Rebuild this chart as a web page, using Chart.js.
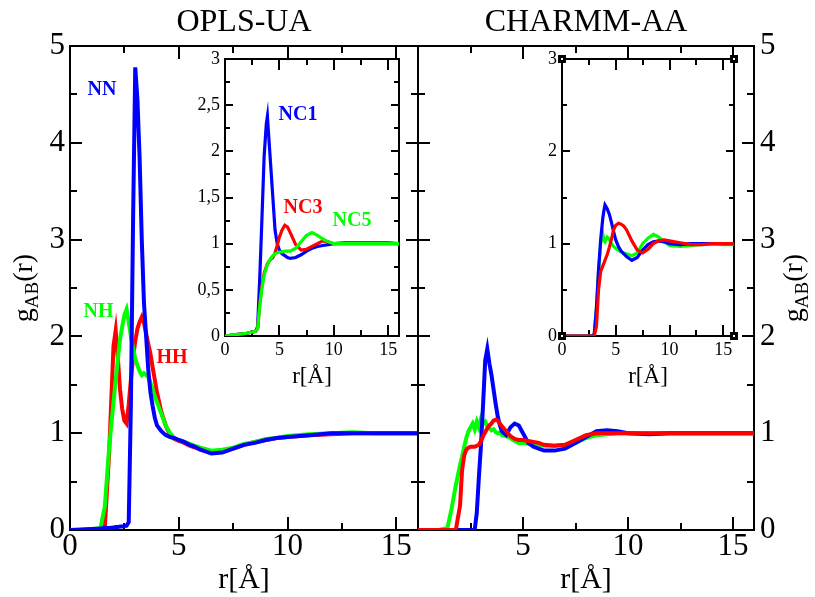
<!DOCTYPE html>
<html><head><meta charset="utf-8">
<script src="https://cdn.jsdelivr.net/npm/chart.js@4"></script>
<style>
html,body{margin:0;padding:0;background:#fff;width:815px;height:597px;overflow:hidden}
canvas{position:absolute;left:0;top:0}
</style></head><body>
<canvas id="mainL" width="815" height="597"></canvas>
<canvas id="mainR" width="815" height="597"></canvas>
<canvas id="insetL" width="815" height="597"></canvas>
<canvas id="insetR" width="815" height="597"></canvas>
<script>
// ---------- DATA ----------
const panelTitles = ['OPLS-UA', 'CHARMM-AA'];
const xTitle = 'r[Å]';
const xTicks = [0, 5, 10, 15];

const rMain = [0, 0.5, 1.0, 1.4, 1.6, 1.8, 2.0, 2.1, 2.2, 2.3, 2.4, 2.5, 2.6, 2.7, 2.8, 2.9, 3.0, 3.1, 3.2, 3.3, 3.4, 3.5, 3.6, 3.7, 3.8, 3.9, 4.0, 4.2, 4.4, 4.6, 4.8, 5.0, 5.25, 5.5, 5.75, 6.0, 6.5, 7.0, 7.5, 8.0, 8.5, 9.0, 9.5, 10, 11, 12, 13, 14, 15, 16];

// OPLS-UA main panel
const oplsNN = [0, 0.005, 0.01, 0.015, 0.02, 0.02, 0.025, 0.03, 0.03, 0.035, 0.035, 0.04, 0.045, 0.08, 1.3, 3.2, 4.78, 4.45, 3.85, 3.0, 2.35, 2.0, 1.65, 1.42, 1.28, 1.16, 1.08, 1.02, 0.98, 0.96, 0.95, 0.93, 0.91, 0.88, 0.86, 0.83, 0.79, 0.8, 0.84, 0.88, 0.9, 0.93, 0.95, 0.96, 0.98, 1.0, 1.0, 1.0, 1.0, 1.0];
const oplsNH = [0, 0, 0.005, 0.02, 0.24, 0.85, 1.32, 1.55, 1.76, 1.97, 2.1, 2.22, 2.28, 2.15, 2.0, 1.88, 1.77, 1.7, 1.64, 1.6, 1.62, 1.6, 1.58, 1.52, 1.45, 1.38, 1.32, 1.2, 1.08, 1.0, 0.95, 0.93, 0.91, 0.89, 0.87, 0.85, 0.82, 0.83, 0.85, 0.89, 0.91, 0.94, 0.95, 0.97, 0.99, 1.0, 1.01, 1.0, 1.0, 1.0];
const oplsHH = [0, 0, 0.005, 0.01, 0.02, 0.8, 1.9, 2.06, 1.78, 1.45, 1.25, 1.13, 1.1, 1.3, 1.55, 1.78, 1.95, 2.08, 2.15, 2.2, 2.14, 2.03, 1.92, 1.82, 1.68, 1.55, 1.42, 1.22, 1.08, 0.98, 0.94, 0.92, 0.9, 0.87, 0.85, 0.83, 0.8, 0.81, 0.84, 0.88, 0.91, 0.93, 0.95, 0.96, 0.98, 0.99, 1.0, 1.0, 1.0, 1.0];

// CHARMM-AA main panel
const charmmNN = [0, 0, 0, 0, 0, 0, 0, 0, 0, 0, 0, 0, 0, 0, 0.18, 0.55, 0.88, 1.3, 1.75, 1.87, 1.72, 1.6, 1.45, 1.3, 1.17, 1.08, 1.02, 0.98, 1.06, 1.1, 1.08, 1.0, 0.9, 0.86, 0.84, 0.82, 0.82, 0.84, 0.9, 0.96, 1.02, 1.03, 1.02, 1.0, 0.99, 1.0, 1.0, 1.0, 1.0, 1.0];
const charmmNH = [0, 0, 0, 0.02, 0.22, 0.46, 0.67, 0.76, 0.86, 0.95, 1.02, 1.06, 1.1, 1.04, 1.12, 1.06, 1.15, 1.1, 1.12, 1.07, 1.05, 1.03, 1.04, 1.01, 1.0, 1.01, 0.98, 0.97, 0.95, 0.92, 0.9, 0.9, 0.89, 0.88, 0.88, 0.87, 0.87, 0.88, 0.9, 0.95, 0.98, 0.99, 1.0, 1.0, 1.0, 1.0, 1.0, 1.0, 1.0, 1.0];
const charmmHH = [0, 0, 0, 0, 0, 0, 0.25, 0.62, 0.77, 0.83, 0.85, 0.86, 0.86, 0.86, 0.87, 0.88, 0.92, 0.97, 1.01, 1.05, 1.08, 1.1, 1.13, 1.14, 1.13, 1.1, 1.07, 1.02, 0.97, 0.94, 0.93, 0.93, 0.92, 0.91, 0.9, 0.88, 0.87, 0.88, 0.93, 0.98, 1.0, 1.0, 1.0, 1.0, 1.0, 1.0, 1.0, 1.0, 1.0, 1.0];

// Insets
const rInset = [0, 1, 2, 2.8, 3.0, 3.2, 3.4, 3.6, 3.8, 3.9, 4.0, 4.2, 4.4, 4.6, 4.8, 5.0, 5.25, 5.5, 5.75, 6.0, 6.5, 7.0, 7.5, 8.0, 8.5, 9.0, 9.5, 10, 11, 12, 13, 14, 15, 16];
const oplsNC1 = [0, 0.015, 0.03, 0.05, 0.1, 0.64, 1.28, 1.95, 2.3, 2.38, 2.2, 1.85, 1.5, 1.15, 1.0, 0.93, 0.89, 0.87, 0.85, 0.84, 0.85, 0.88, 0.92, 0.95, 0.97, 0.98, 0.99, 1.0, 1.01, 1.01, 1.01, 1.01, 1.01, 1.0];
const oplsNC3 = [0, 0.015, 0.03, 0.05, 0.08, 0.35, 0.55, 0.68, 0.75, 0.78, 0.8, 0.83, 0.85, 0.9, 0.98, 1.07, 1.15, 1.2, 1.18, 1.12, 0.99, 0.93, 0.94, 0.97, 1.0, 1.03, 1.02, 1.0, 1.0, 1.0, 1.0, 1.0, 1.0, 1.0];
const oplsNC5 = [0, 0.015, 0.03, 0.05, 0.08, 0.33, 0.52, 0.66, 0.74, 0.77, 0.8, 0.84, 0.87, 0.89, 0.9, 0.91, 0.91, 0.92, 0.92, 0.92, 0.95, 1.02, 1.09, 1.12, 1.09, 1.05, 1.02, 1.0, 1.0, 1.0, 1.0, 1.0, 1.0, 1.0];
const charmmNC1 = [0, 0, 0, 0, 0.02, 0.3, 0.72, 1.05, 1.28, 1.36, 1.42, 1.38, 1.32, 1.23, 1.13, 1.04, 0.97, 0.92, 0.89, 0.86, 0.82, 0.85, 0.93, 0.99, 1.02, 1.03, 1.02, 1.0, 0.99, 1.0, 1.0, 1.0, 1.0, 1.0];
const charmmNC5 = [0, 0, 0, 0, 0.02, 0.3, 0.7, 1.0, 1.1, 1.04, 1.02, 1.07, 1.05, 1.0, 0.97, 0.95, 0.93, 0.91, 0.9, 0.89, 0.87, 0.9, 1.0, 1.06, 1.1, 1.07, 1.02, 0.98, 0.97, 0.98, 0.99, 1.0, 0.99, 0.99];
const charmmNC3 = [0, 0, 0, 0, 0.0, 0.1, 0.5, 0.7, 0.76, 0.79, 0.82, 0.88, 0.96, 1.05, 1.15, 1.2, 1.22, 1.21, 1.19, 1.15, 1.03, 0.93, 0.9, 0.94, 1.0, 1.03, 1.04, 1.03, 1.01, 0.99, 0.99, 1.0, 1.0, 1.0];
const cornerR = [0, 16, 0, 16];
const cornerG = [0, 0, 3, 3];

// curve labels (text, position in data units)
const oplsLabelText = ['NN', 'NH', 'HH'];
const oplsLabelR = [1.47, 1.31, 4.69];
const oplsLabelG = [4.55, 2.25, 1.78];
const insetLabelText = ['NC1', 'NC3', 'NC5'];
const insetLabelR = [6.71, 7.17, 11.68];
const insetLabelG = [2.39, 1.39, 1.25];

// ---------- STYLE ----------
const SERIF = '"Liberation Serif", "Times New Roman", serif';
const BLUE = '#0000ff', RED = '#ff0000', GREEN = '#00ff00';

const pts = (rs, gs) => rs.map((r, i) => ({x: r, y: gs[i]}));
const curve = (label, rs, gs, color, w) => ({label, data: pts(rs, gs), borderColor: color, backgroundColor: color,
  borderWidth: w, pointRadius: 0, tension: 0, fill: false});

const frameTicks = {
  id: 'frameTicks',
  beforeDatasetsDraw(chart, args, o) {
    const {ctx, chartArea: a} = chart;
    const xs = chart.scales.x, ys = chart.scales.y;
    const majX = xs.ticks.map(t => t.value), majY = ys.ticks.map(t => t.value);
    const minors = (maj, max) => { const s = maj[1] - maj[0]; return maj.map(v => v + s / 2).filter(v => v < max - 1e-9); };
    ctx.save();
    ctx.strokeStyle = '#000';
    ctx.lineWidth = o.lw;
    ctx.beginPath();
    const tx = (v, len) => { const p = Math.round(xs.getPixelForValue(v));
      ctx.moveTo(p, a.bottom); ctx.lineTo(p, a.bottom - len); ctx.moveTo(p, a.top); ctx.lineTo(p, a.top + len); };
    const ty = (v, len) => { const p = Math.round(ys.getPixelForValue(v));
      ctx.moveTo(a.left, p); ctx.lineTo(a.left + len, p); ctx.moveTo(a.right, p); ctx.lineTo(a.right - len, p); };
    majX.forEach(v => tx(v, o.majX)); minors(majX, xs.max).forEach(v => tx(v, o.minX));
    majY.forEach(v => ty(v, o.majY)); minors(majY, ys.max).forEach(v => ty(v, o.minY));
    ctx.stroke();
    ctx.strokeRect(a.left, a.top, a.right - a.left, a.bottom - a.top);
    ctx.restore();
  }
};

const gLabel = {
  id: 'gLabel',
  afterDraw(chart, args, o) {
    if (!o.side) return;
    const {ctx, chartArea: a} = chart;
    const bx = o.side === 'left' ? a.left - o.offset : a.right + o.offset;
    const cy = (a.top + a.bottom) / 2;
    ctx.save();
    ctx.translate(bx, cy); ctx.rotate(-Math.PI / 2);
    ctx.fillStyle = '#000'; ctx.textBaseline = 'alphabetic'; ctx.textAlign = 'left';
    const big = o.size + 'px ' + SERIF, small = o.sub + 'px ' + SERIF;
    ctx.font = big; const wg = ctx.measureText('g').width, wr = ctx.measureText('(r)').width;
    ctx.font = small; const wab = ctx.measureText('AB').width;
    let x = -(wg + wab + wr) / 2;
    ctx.font = big; ctx.fillText('g', x, 0); x += wg;
    ctx.font = small; ctx.fillText('AB', x, o.drop); x += wab;
    ctx.font = big; ctx.fillText('(r)', x, 0);
    ctx.restore();
  }
};

const seriesLabels = {
  id: 'seriesLabels',
  afterDatasetsDraw(chart, args, o) {
    if (!o.text) return;
    const {ctx} = chart; const xs = chart.scales.x, ys = chart.scales.y;
    ctx.save();
    ctx.font = 'bold ' + o.size + 'px ' + SERIF;
    ctx.textAlign = 'center'; ctx.textBaseline = 'middle';
    o.text.forEach((t, i) => { ctx.fillStyle = o.colors[i];
      ctx.fillText(t, xs.getPixelForValue(o.r[i]), ys.getPixelForValue(o.g[i])); });
    ctx.restore();
  }
};

function xAxis(fs, pad, ts, tpad, h, hideZero) {
  return { type: 'linear', min: 0, max: 16, afterFit: s => { s.height = h; },
    afterBuildTicks: s => { s.ticks = xTicks.map(v => ({value: v})); },
    ticks: { color: '#000', padding: pad, maxRotation: 0, autoSkip: false, font: {family: SERIF, size: fs, lineHeight: 1},
      callback: v => (hideZero && v === 0) ? '' : String(v) },
    grid: { display: false, drawTicks: false }, border: { display: false },
    title: { display: true, text: xTitle, color: '#000', font: {family: SERIF, size: ts, lineHeight: 1}, padding: {top: 0, bottom: tpad} } };
}
function yAxis(pos, max, step, fs, pad, w, cb) {
  return { type: 'linear', position: pos, min: 0, max: max, afterFit: s => { s.width = w; },
    ticks: { stepSize: step, includeBounds: false, color: '#000', padding: pad, font: {family: SERIF, size: fs, lineHeight: 1},
      callback: cb || (v => String(v)) },
    grid: { display: false, drawTicks: false }, border: { display: false }, title: { display: false } };
}
const baseOpts = { responsive: false, animation: false, devicePixelRatio: 1, events: [] };
const noLegend = { legend: {display: false}, tooltip: {enabled: false} };
const titleOpt = t => ({ display: true, text: t, fullSize: false, color: '#000',
  font: {family: SERIF, size: 32, weight: 'normal', lineHeight: 1.2}, padding: {top: 3, bottom: 4.6} });
const plugins = [frameTicks, gLabel, seriesLabels];
const MW = 4, IW = 3.2;

// ---------- MAIN LEFT ----------
new Chart(document.getElementById('mainL'), {
  type: 'line',
  data: { datasets: [ curve('NN', rMain, oplsNN, BLUE, MW), curve('NH', rMain, oplsNH, GREEN, MW), curve('HH', rMain, oplsHH, RED, MW) ] },
  options: Object.assign({}, baseOpts, {
    layout: { padding: {left: 0, top: 0, right: 397, bottom: 0} },
    scales: { x: xAxis(31, 1.5, 30, 1.5, 67, false), y: yAxis('left', 5, 1, 31, 5, 70) },
    plugins: Object.assign({}, noLegend, {
      title: titleOpt(panelTitles[0]),
      frameTicks: {lw: 2, majX: 13, minX: 7, majY: 12, minY: 7},
      gLabel: {side: 'left', offset: 38, size: 28, sub: 19, drop: 6},
      seriesLabels: {size: 20, text: oplsLabelText, r: oplsLabelR, g: oplsLabelG, colors: [BLUE, GREEN, RED]} })
  }),
  plugins
});

// ---------- MAIN RIGHT ----------
new Chart(document.getElementById('mainR'), {
  type: 'line',
  data: { datasets: [ curve('HH', rMain, charmmHH, RED, MW), curve('NN', rMain, charmmNN, BLUE, MW), curve('NH', rMain, charmmNH, GREEN, MW) ] },
  options: Object.assign({}, baseOpts, {
    layout: { padding: {left: 418, top: 0, right: 0, bottom: 0} },
    scales: { x: xAxis(31, 1.5, 30, 1.5, 67, true), y: yAxis('right', 5, 1, 31, 6, 61) },
    plugins: Object.assign({}, noLegend, {
      title: titleOpt(panelTitles[1]),
      frameTicks: {lw: 2, majX: 13, minX: 7, majY: 12, minY: 7},
      gLabel: {side: 'right', offset: 48, size: 28, sub: 19, drop: 6},
      seriesLabels: {} })
  }),
  plugins
});

// ---------- INSET LEFT ----------
const comma = v => String(v).replace('.', ',');
new Chart(document.getElementById('insetL'), {
  type: 'line',
  data: { datasets: [ curve('NC5', rInset, oplsNC5, GREEN, IW), curve('NC3', rInset, oplsNC3, RED, IW), curve('NC1', rInset, oplsNC1, BLUE, IW) ] },
  options: Object.assign({}, baseOpts, {
    layout: { padding: {left: 185, top: 59, right: 416, bottom: 209} },
    scales: { x: xAxis(18, 5.5, 23, 0, 52, false), y: yAxis('left', 3, 0.5, 18, 5, 40, comma) },
    plugins: Object.assign({}, noLegend, {
      title: {display: false},
      frameTicks: {lw: 2, majX: 11, minX: 6, majY: 8, minY: 5},
      gLabel: {},
      seriesLabels: {size: 20, text: insetLabelText, r: insetLabelR, g: insetLabelG, colors: [BLUE, RED, GREEN]} })
  }),
  plugins
});

// ---------- INSET RIGHT ----------
new Chart(document.getElementById('insetR'), {
  type: 'line',
  data: { datasets: [
    { label: 'corners', data: pts(cornerR, cornerG), showLine: false, pointStyle: 'rect', pointRadius: 3.5,
      pointBorderColor: '#000', pointBackgroundColor: '#fff', pointBorderWidth: 3, borderColor: '#000', clip: false },
    curve('NC3', rInset, charmmNC3, RED, IW), curve('NC1', rInset, charmmNC1, BLUE, IW), curve('NC5', rInset, charmmNC5, GREEN, IW) ] },
  options: Object.assign({}, baseOpts, {
    layout: { padding: {left: 522, top: 59, right: 81, bottom: 209} },
    scales: { x: xAxis(18, 5.5, 23, 0, 52, false), y: yAxis('left', 3, 1, 18, 5, 40) },
    plugins: Object.assign({}, noLegend, {
      title: {display: false},
      frameTicks: {lw: 2, majX: 11, minX: 6, majY: 8, minY: 5},
      gLabel: {},
      seriesLabels: {} })
  }),
  plugins
});
</script>
</body></html>
